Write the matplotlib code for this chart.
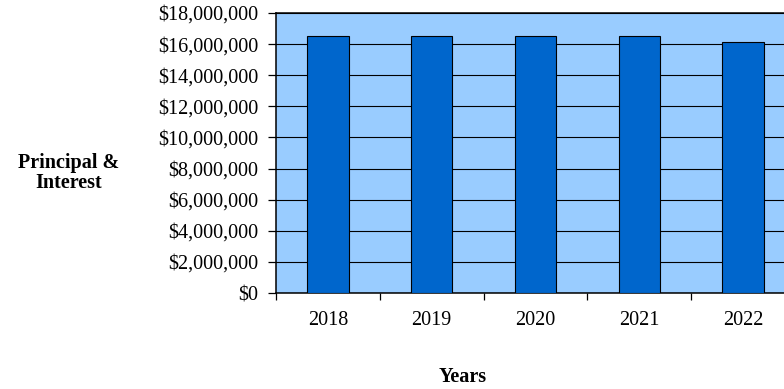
import matplotlib
matplotlib.use("Agg")
import matplotlib.pyplot as plt
from matplotlib.ticker import FuncFormatter, FixedLocator

years = ["2018", "2019", "2020", "2021", "2022"]
payments = [16550000, 16550000, 16550000, 16550000, 16150000]
y_ticks = list(range(0, 18000001, 2000000))

plt.rcParams["font.family"] = ["Liberation Serif", "DejaVu Serif"]

W, H = 784, 389
fig = plt.figure(figsize=(W / 100, H / 100), dpi=100)
left, right, top, bottom = 276, 795, 13, 293
ax = fig.add_axes([left / W, (H - bottom) / H, (right - left) / W, (bottom - top) / H])

ax.set_facecolor("#99CCFF")
x = range(len(years))
ax.bar(x, payments, width=0.4, color="#0066CC", edgecolor="black", linewidth=0.8, zorder=3)

ax.set_xlim(-0.5, len(years) - 0.5)
ax.set_ylim(0, 18000000)
ax.set_yticks(y_ticks)
ax.yaxis.set_major_formatter(FuncFormatter(lambda v, p: f"${v:,.0f}"))
ax.grid(axis="y", color="black", linewidth=0.8, zorder=1)
ax.set_axisbelow(True)

ax.set_xticks(list(x))
ax.set_xticklabels(years)
ax.xaxis.set_minor_locator(FixedLocator([i - 0.5 for i in range(len(years) + 1)]))
ax.tick_params(axis="x", which="major", length=0, pad=13, labelsize=14.5)
ax.tick_params(axis="x", which="minor", length=5, width=0.9, direction="out")
ax.tick_params(axis="y", length=5.5, width=0.9, pad=7, labelsize=14.5, direction="out")

for side in ["left", "bottom", "top"]:
    ax.spines[side].set_linewidth(1.1)
    ax.spines[side].set_color("black")
ax.spines["right"].set_visible(False)

fig.text(68.5 / W, 1 - 168 / H, "Principal &", ha="center", va="baseline",
         fontsize=14.5, fontweight="bold")
fig.text(68.5 / W, 1 - 188 / H, "Interest", ha="center", va="baseline",
         fontsize=14.5, fontweight="bold")
fig.text(463 / W, 1 - 377 / H, "Years", ha="center", va="center",
         fontsize=14.5, fontweight="bold")

fig.savefig("out.png", dpi=100)
